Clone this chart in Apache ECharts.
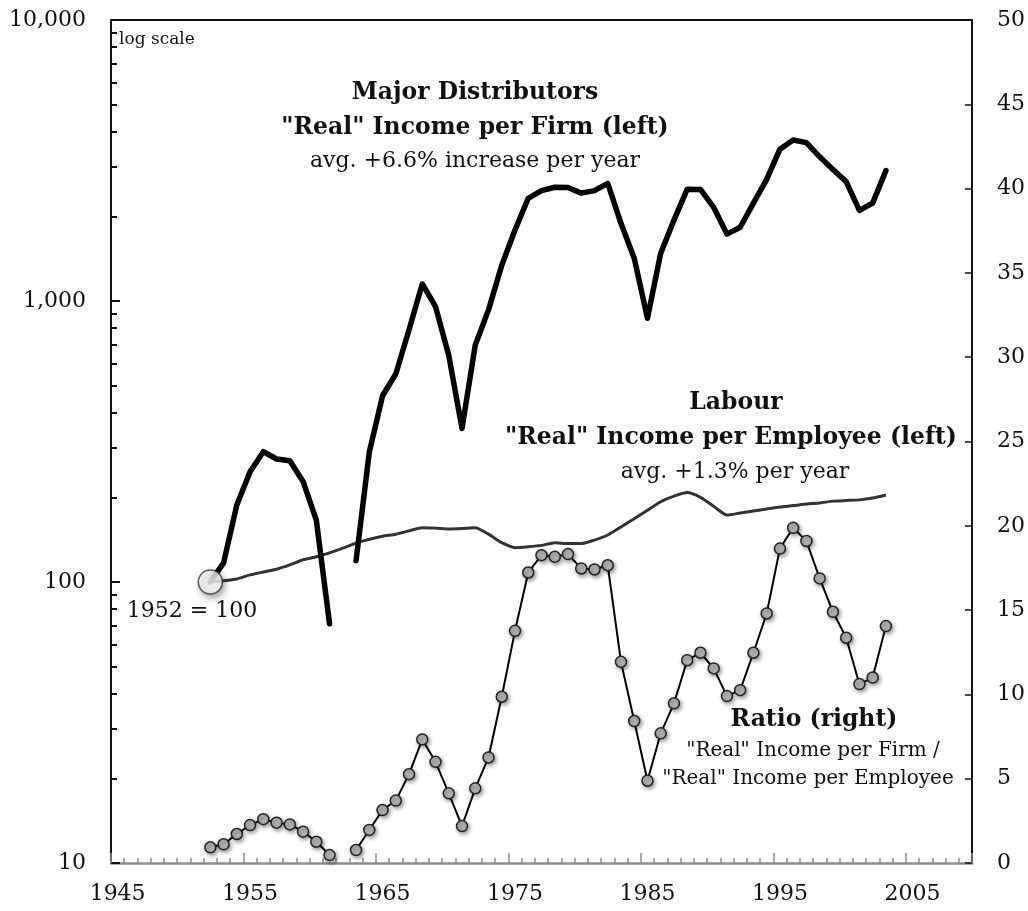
<!DOCTYPE html>
<html>
<head>
<meta charset="utf-8">
<script src="https://cdn.jsdelivr.net/npm/echarts@6/dist/echarts.min.js"></script>
<style>
  html, body { margin: 0; padding: 0; background: #fff; }
  #chart { width: 1028px; height: 911px; }
</style>
</head>
<body>
<div id="chart"></div>
<script>
  // x categories: 1945 .. 2009
  var categories = [];
  for (var y = 1945; y <= 2009; y++) categories.push(String(y));

  // years with data: 1952 .. 2003
  var dataYears = [];
  for (var y2 = 1952; y2 <= 2003; y2++) dataYears.push(String(y2));

  // Major distributors "real" income per firm, 1952 = 100 (log scale, left)
  var firmIncome = [
    100, 117, 188, 247, 291, 274, 270, 228, 166, 71,
    null, 119, 290, 460, 550, 790, 1150, 955, 640, 352,
    697, 930, 1340, 1790, 2320, 2470, 2540, 2535, 2420, 2470,
    2620, 1890, 1420, 868, 1480, 1940, 2500, 2495, 2155, 1730,
    1830, 2230, 2710, 3470, 3740, 3660, 3260, 2940, 2660, 2100,
    2230, 2910
  ];

  // Labour "real" income per employee, 1952 = 100 (log scale, left)
  var employeeIncome = [
    100, 101, 102.5, 106, 108.5, 111, 115, 120, 123, 127,
    132, 137.5, 142, 145.5, 148, 152, 156, 155.5, 154.5, 155,
    156, 148, 138, 132.5, 133.5, 135, 138, 137, 137, 141,
    147, 157, 168, 180, 193, 202, 208, 200, 186, 173,
    176, 179, 182, 185, 187, 189.5, 191, 194, 195, 196,
    199, 204
  ];

  // ratio firm / employee (right axis)
  var ratio = [
    0.93, 1.11, 1.72, 2.25, 2.6, 2.39, 2.29, 1.86, 1.26, 0.47,
    null, 0.77, 1.96, 3.14, 3.7, 5.27, 7.33, 6.0, 4.13, 2.19,
    4.43, 6.26, 9.86, 13.77, 17.23, 18.26, 18.16, 18.32, 17.47, 17.41,
    17.66, 11.93, 8.42, 4.88, 7.69, 9.47, 12.03, 12.47, 11.54, 9.9,
    10.25, 12.47, 14.8, 18.65, 19.88, 19.1, 16.88, 14.9, 13.36, 10.61,
    11.0, 14.05
  ];

  var basePoint = [['1952', 100]];

  // minor ticks on the log axis
  var logMinorTicks = [20, 30, 40, 50, 60, 70, 80, 90,
    200, 300, 400, 500, 600, 700, 800, 900,
    2000, 3000, 4000, 5000, 6000, 7000, 8000, 9000];

  var FONT = 'DejaVu Serif';

  function pairs(values) {
    return dataYears.map(function (yr, i) { return [yr, values[i]]; });
  }

  function txt(x, y, text, size, bold, align) {
    return {
      type: 'text',
      x: x,
      y: y,
      z: 100,
      style: {
        text: text,
        fill: '#111',
        font: (bold ? 'bold ' : '') + size + 'px "' + FONT + '"',
        textAlign: align || 'center',
        textVerticalAlign: 'middle'
      }
    };
  }

  var myChart = echarts.init(document.getElementById('chart'));

  var gridPos = { left: 111, right: 56, top: 20, bottom: 48 };

  var option = {
    animation: false,
    backgroundColor: '#fff',
    textStyle: { fontFamily: FONT },
    grid: [
      Object.assign({}, gridPos),
      Object.assign({}, gridPos)
    ],
    xAxis: [
      {
        type: 'category',
        gridIndex: 0,
        position: 'bottom',
        data: categories,
        boundaryGap: true,
        axisLine: { lineStyle: { color: '#8c8c8c', width: 2.5 } },
        axisTick: {
          show: true,
          interval: 0,
          inside: true,
          length: 5,
          lineStyle: { color: '#8c8c8c', width: 1.5 }
        },
        axisLabel: {
          interval: 9,
          margin: 20,
          color: '#111',
          fontSize: 22,
          fontFamily: FONT
        },
        splitLine: { show: false }
      },
      {
        type: 'category',
        gridIndex: 0,
        position: 'top',
        data: categories,
        axisLine: { lineStyle: { color: '#111', width: 2 } },
        axisTick: { show: false },
        axisLabel: { show: false },
        splitLine: { show: false }
      },
      {
        type: 'category',
        gridIndex: 1,
        position: 'bottom',
        data: categories,
        boundaryGap: true,
        axisLine: { show: false },
        axisTick: {
          show: true,
          interval: 9,
          inside: true,
          length: 10,
          lineStyle: { color: '#8c8c8c', width: 1.5 }
        },
        axisLabel: { show: false },
        splitLine: { show: false }
      }
    ],
    yAxis: [
      {
        type: 'log',
        gridIndex: 0,
        position: 'left',
        min: 10,
        max: 10000,
        logBase: 10,
        axisLine: { show: true, lineStyle: { color: '#111', width: 2 } },
        axisTick: { show: true, inside: true, length: 9, lineStyle: { color: '#111', width: 2 } },
        axisLabel: {
          margin: 25,
          color: '#111',
          fontSize: 22,
          fontFamily: FONT,
          formatter: function (v) { return Number(v).toLocaleString('en-US'); }
        },
        splitLine: { show: false }
      },
      {
        type: 'value',
        gridIndex: 0,
        position: 'right',
        min: 0,
        max: 50,
        interval: 5,
        axisLine: { show: true, lineStyle: { color: '#111', width: 2 } },
        axisTick: { show: true, inside: true, length: 7, lineStyle: { color: '#111', width: 1.5 } },
        axisLabel: {
          margin: 25,
          color: '#111',
          fontSize: 22,
          fontFamily: FONT
        },
        splitLine: { show: false }
      },
      {
        type: 'log',
        gridIndex: 1,
        position: 'left',
        min: 10,
        max: 10000,
        logBase: 10,
        axisLine: { show: false },
        axisTick: {
          show: true,
          inside: true,
          length: 6,
          customValues: logMinorTicks,
          lineStyle: { color: '#111', width: 2 }
        },
        axisLabel: { show: false },
        splitLine: { show: false }
      }
    ],
    series: [
      {
        name: 'Labour "Real" Income per Employee',
        type: 'line',
        xAxisIndex: 0,
        yAxisIndex: 0,
        data: pairs(employeeIncome),
        showSymbol: false,
        symbol: 'none',
        smooth: 0.2,
        lineStyle: { color: '#333', width: 3 },
        z: 3
      },
      {
        name: 'Major Distributors "Real" Income per Firm',
        type: 'line',
        xAxisIndex: 0,
        yAxisIndex: 0,
        data: pairs(firmIncome),
        connectNulls: false,
        showSymbol: false,
        symbol: 'none',
        lineStyle: { color: '#000', width: 5.5, cap: 'round', join: 'round' },
        z: 4
      },
      {
        name: 'Ratio',
        type: 'line',
        xAxisIndex: 0,
        yAxisIndex: 1,
        data: pairs(ratio),
        connectNulls: false,
        symbol: 'circle',
        symbolSize: 11,
        showSymbol: true,
        showAllSymbol: true,
        lineStyle: { color: '#000', width: 2 },
        itemStyle: {
          color: '#b4b4b4',
          borderColor: '#222',
          borderWidth: 1.5,
          shadowBlur: 4,
          shadowColor: 'rgba(0,0,0,0.4)',
          shadowOffsetX: 1.5,
          shadowOffsetY: 2
        },
        z: 5
      },
      {
        name: '1952 = 100',
        type: 'scatter',
        xAxisIndex: 0,
        yAxisIndex: 0,
        data: basePoint,
        symbol: 'circle',
        symbolSize: 24,
        itemStyle: {
          color: '#fff',
          borderColor: '#333',
          borderWidth: 1.5,
          shadowBlur: 6,
          shadowColor: 'rgba(0,0,0,0.45)',
          shadowOffsetX: 2,
          shadowOffsetY: 3
        },
        z: 6
      }
    ],
    graphic: [
      txt(119, 40, 'log scale', 17, false, 'left'),
      txt(475, 93, 'Major Distributors', 23.5, true),
      txt(475, 128, '"Real" Income per Firm (left)', 23.5, true),
      txt(475, 161, 'avg. +6.6% increase per year', 22, false),
      txt(736, 403, 'Labour', 23.5, true),
      txt(731, 438, '"Real" Income per Employee (left)', 23.5, true),
      txt(735, 472, 'avg. +1.3% per year', 22, false),
      txt(192, 611, '1952 = 100', 22, false),
      txt(814, 720, 'Ratio (right)', 23.5, true),
      txt(813, 751, '"Real" Income per Firm /', 20, false),
      txt(808, 779, '"Real" Income per Employee', 20, false)
    ]
  };

  myChart.setOption(option);
  window.addEventListener('resize', function () { myChart.resize(); }, false);
</script>
</body>
</html>
